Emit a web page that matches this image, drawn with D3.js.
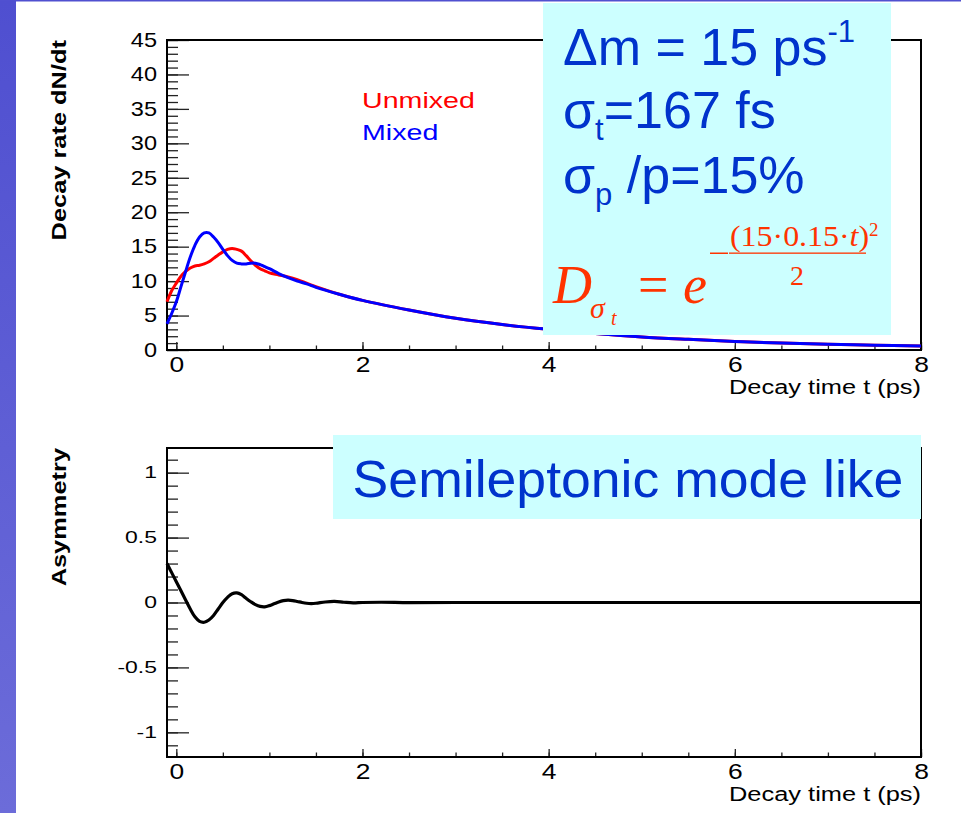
<!DOCTYPE html>
<html lang="en">
<head>
<meta charset="UTF-8">
<title>Decay rate and asymmetry</title>
<script src="https://d3js.org/d3.v7.min.js"></script>
<style>
  body { margin: 0; background: #fff; }
  svg text { font-family: "Liberation Sans", Arial, sans-serif; }
</style>
</head>
<body>
<script>
// decay rate curves (t in ps)
var tRate = [-0.1, -0.05, 0, 0.05, 0.1, 0.15, 0.2, 0.25, 0.3, 0.35, 0.4, 0.45, 0.5, 0.55, 0.6, 0.65,
  0.7, 0.75, 0.8, 0.85, 0.9, 0.95, 1.0, 1.1, 1.2, 1.3, 1.4, 1.5, 1.75, 2, 2.5, 3, 3.5, 4, 4.5, 5,
  5.5, 6, 6.5, 7, 7.5, 8];
var unmixed = [7.0, 8.6, 9.7, 10.7, 11.4, 11.9, 12.2, 12.3, 12.5, 12.8, 13.3, 13.8, 14.25, 14.6, 14.75, 14.6,
  14.35, 13.7, 12.95, 12.3, 11.8, 11.5, 11.2, 10.9, 10.6, 10.2, 9.7, 9.2, 8.1, 7.2, 5.8, 4.6, 3.7, 3.0, 2.4, 1.9,
  1.55, 1.25, 1.0, 0.83, 0.69, 0.57];
var mixed = [3.8, 5.3, 7.0, 9.2, 11.4, 13.5, 15.2, 16.4, 17.0, 17.0, 16.4, 15.6, 14.6, 13.7, 13.0, 12.6,
  12.5, 12.5, 12.6, 12.6, 12.4, 12.1, 11.8, 11.1, 10.5, 10.0, 9.6, 9.1, 8.1, 7.2, 5.8, 4.6, 3.7, 3.0, 2.4, 1.9,
  1.55, 1.25, 1.0, 0.83, 0.69, 0.57];

// asymmetry curve
var tAsym = [-0.1, -0.05, 0, 0.05, 0.1, 0.15, 0.2, 0.25, 0.3, 0.35, 0.4, 0.45, 0.5, 0.55, 0.6, 0.65, 0.7,
  0.75, 0.8, 0.85, 0.9, 0.95, 1.0, 1.05, 1.1, 1.15, 1.2, 1.25, 1.3, 1.35, 1.4, 1.45, 1.5, 1.6, 1.7, 1.8,
  1.9, 2.0, 2.2, 2.5, 3, 4, 5, 6, 7, 8];
var asym = [0.30, 0.23, 0.16, 0.09, 0.02, -0.05, -0.11, -0.145, -0.152, -0.135, -0.10, -0.05, 0.0, 0.04,
  0.068, 0.074, 0.06, 0.032, 0.006, -0.016, -0.03, -0.033, -0.024, -0.01, 0.004, 0.014, 0.018, 0.015,
  0.008, 0.0, -0.006, -0.008, -0.006, 0.004, 0.008, 0.002, -0.003, 0.0, 0.002, -0.001, 0, 0, 0, 0, 0, 0];

var timeTicks = [0, 2, 4, 6, 8];
var timeMinor = d3.range(0, 8.01, 0.5);
var rateTicks = [0, 5, 10, 15, 20, 25, 30, 35, 40, 45];
var rateMinor = d3.range(0, 45.5, 1);
var asymTicks = [-1, -0.5, 0, 0.5, 1];
var asymMinor = d3.range(-1.1, 1.15, 0.1);

var W = 961, H = 813;
var left = 167, right = 921;

var svg = d3.select("body").append("svg")
  .attr("width", W)
  .attr("height", H);

// slide background bits
var grad = svg.append("defs").append("linearGradient")
  .attr("id", "strip").attr("x1", 0).attr("y1", 0).attr("x2", 0).attr("y2", 1);
grad.append("stop").attr("offset", "0%").attr("stop-color", "#4f4fd0");
grad.append("stop").attr("offset", "100%").attr("stop-color", "#6c6cd9");
svg.append("rect").attr("x", 0).attr("y", 0).attr("width", 16).attr("height", H).attr("fill", "url(#strip)");
svg.append("rect").attr("x", 0).attr("y", 0).attr("width", W).attr("height", 1.5).attr("fill", "#5050d0");

// ROOT text comes out wider than Liberation Sans, stretch it a bit
function widen(sel, k) {
  sel.each(function() {
    var w = this.getComputedTextLength();
    d3.select(this).attr("textLength", w * k).attr("lengthAdjust", "spacingAndGlyphs");
  });
}

function panel(top, bottom, yDomain, yTicks, yMinor, yFont, yK, title) {
  var x = d3.scaleLinear().domain([-0.1, 8]).range([left, right]);
  var y = d3.scaleLinear().domain(yDomain).range([bottom, top]);
  var g = svg.append("g");

  // minor and major ticks, drawn inward
  g.append("g").attr("transform", "translate(" + left + ",0)")
    .call(d3.axisRight(y).tickValues(yMinor).tickSize(11).tickFormat(""));
  g.append("g").attr("transform", "translate(" + left + ",0)")
    .call(d3.axisRight(y).tickValues(yTicks).tickSize(22).tickFormat(""));
  g.append("g").attr("transform", "translate(0," + bottom + ")")
    .call(d3.axisTop(x).tickValues(timeMinor).tickSize(4.5).tickFormat(""));
  g.append("g").attr("transform", "translate(0," + bottom + ")")
    .call(d3.axisTop(x).tickValues(timeTicks).tickSize(8).tickFormat(""));
  g.selectAll(".domain").remove();
  g.selectAll(".tick line").attr("stroke", "#222").attr("stroke-width", 1.3);

  // labels (plain hyphen for negatives, like the original)
  var yl = g.append("g").attr("transform", "translate(" + left + ",0)")
    .call(d3.axisLeft(y).tickValues(yTicks).tickSize(0).tickPadding(10)
      .tickFormat(function(d) { return String(d); }));
  yl.select(".domain").remove();
  yl.selectAll("text").attr("font-size", yFont).attr("font-family", null).attr("fill", "#000")
    .attr("dy", "0.3em").call(widen, yK);

  var xl = g.append("g").attr("transform", "translate(0," + bottom + ")")
    .call(d3.axisBottom(x).tickValues(timeTicks).tickSize(0).tickPadding(6).tickFormat(d3.format("d")));
  xl.select(".domain").remove();
  xl.selectAll("text").attr("font-size", 22).attr("font-family", null).attr("fill", "#000")
    .call(widen, 1.2);

  g.append("text")
    .attr("x", right).attr("y", bottom + 44)
    .attr("text-anchor", "end")
    .attr("font-size", 20)
    .text("Decay time t (ps)")
    .call(widen, 1.27);

  g.append("text")
    .attr("transform", "translate(66," + top + ") rotate(-90)")
    .attr("text-anchor", "end")
    .attr("font-size", 20)
    .attr("font-weight", "bold")
    .text(title)
    .call(widen, 1.27);

  // frame
  g.append("rect")
    .attr("x", left).attr("y", top)
    .attr("width", right - left).attr("height", bottom - top)
    .attr("fill", "none").attr("stroke", "#000").attr("stroke-width", 2);

  return { x: x, y: y };
}

// ---- top: decay rate
var p1 = panel(40, 350, [0, 45], rateTicks, rateMinor, 21, 1.12, "Decay rate dN/dt");

var rateLine = function(vals) {
  return d3.line()
    .x(function(d, i) { return p1.x(tRate[i]); })
    .y(function(d) { return p1.y(d); })
    .curve(d3.curveCatmullRom.alpha(0.5))(vals);
};
svg.append("path").attr("d", rateLine(unmixed))
  .attr("fill", "none").attr("stroke", "#ff0000").attr("stroke-width", 3);
svg.append("path").attr("d", rateLine(mixed))
  .attr("fill", "none").attr("stroke", "#0000ff").attr("stroke-width", 3);

svg.append("text").attr("x", 362).attr("y", 108).attr("font-size", 22).attr("fill", "#ff0000")
  .text("Unmixed").call(widen, 1.3);
svg.append("text").attr("x", 362).attr("y", 140).attr("font-size", 22).attr("fill", "#0000ff")
  .text("Mixed").call(widen, 1.3);

// ---- bottom: asymmetry
var p2 = panel(448, 757, [-1.19, 1.19], asymTicks, asymMinor, 17, 1.35, "Asymmetry");

svg.append("path")
  .attr("d", d3.line()
    .x(function(d, i) { return p2.x(tAsym[i]); })
    .y(function(d) { return p2.y(d); })
    .curve(d3.curveCatmullRom.alpha(0.5))(asym))
  .attr("fill", "none").attr("stroke", "#000").attr("stroke-width", 3.2);

// ---- info boxes
var blue = "#0033cc", red = "#ff3300";
svg.append("rect").attr("x", 543).attr("y", 3).attr("width", 348).attr("height", 332).attr("fill", "#ccffff");

var l1 = svg.append("text").attr("x", 563).attr("y", 65).attr("font-size", 52).attr("fill", blue);
l1.append("tspan").text("\u0394m = 15 ps");
l1.append("tspan").attr("font-size", 31).attr("dy", -23).text("-1");

var l2 = svg.append("text").attr("x", 563).attr("y", 128).attr("font-size", 52).attr("fill", blue);
l2.append("tspan").text("\u03c3");
l2.append("tspan").attr("font-size", 31).attr("dy", 12).text("t");
l2.append("tspan").attr("dy", -12).text("=167 fs");

var l3 = svg.append("text").attr("x", 563).attr("y", 193).attr("font-size", 52).attr("fill", blue);
l3.append("tspan").text("\u03c3");
l3.append("tspan").attr("font-size", 31).attr("dy", 12).text("p");
l3.append("tspan").attr("dy", -12).text(" /p=15%");

var serif = "'Liberation Serif', 'Times New Roman', serif";
var f = svg.append("g").attr("fill", red);
f.append("text").attr("x", 553).attr("y", 303).attr("font-size", 54).attr("font-style", "italic")
  .style("font-family", serif).text("D");
f.append("text").attr("x", 590).attr("y", 318).attr("font-size", 30).attr("font-style", "italic")
  .style("font-family", serif).text("\u03c3");
f.append("text").attr("x", 611).attr("y", 325).attr("font-size", 20).attr("font-style", "italic")
  .style("font-family", serif).text("t");
f.append("text").attr("x", 638).attr("y", 303).attr("font-size", 54)
  .style("font-family", serif).text("=");
f.append("text").attr("x", 683).attr("y", 303).attr("font-size", 54).attr("font-style", "italic")
  .style("font-family", serif).text("e");
f.append("rect").attr("x", 710).attr("y", 252.5).attr("width", 18).attr("height", 1.5);
f.append("rect").attr("x", 729).attr("y", 252.5).attr("width", 137).attr("height", 1.3);
var num = f.append("text").attr("x", 730).attr("y", 246).attr("font-size", 29)
  .style("font-family", serif);
num.append("tspan").text("(15\u00b70.15\u00b7");
num.append("tspan").attr("font-style", "italic").text("t");
num.append("tspan").text(")");
num.call(widen, 1.1);
f.append("text").attr("x", 869).attr("y", 236).attr("font-size", 19)
  .style("font-family", serif).text("2");
f.append("text").attr("x", 790).attr("y", 285).attr("font-size", 28)
  .style("font-family", serif).text("2");

svg.append("rect").attr("x", 333).attr("y", 435).attr("width", 588).attr("height", 84).attr("fill", "#ccffff");
svg.append("text").attr("x", 628).attr("y", 497).attr("text-anchor", "middle")
  .attr("font-size", 52).attr("fill", blue).text("Semileptonic mode like")
  .call(widen, 1.03);
</script>
</body>
</html>
